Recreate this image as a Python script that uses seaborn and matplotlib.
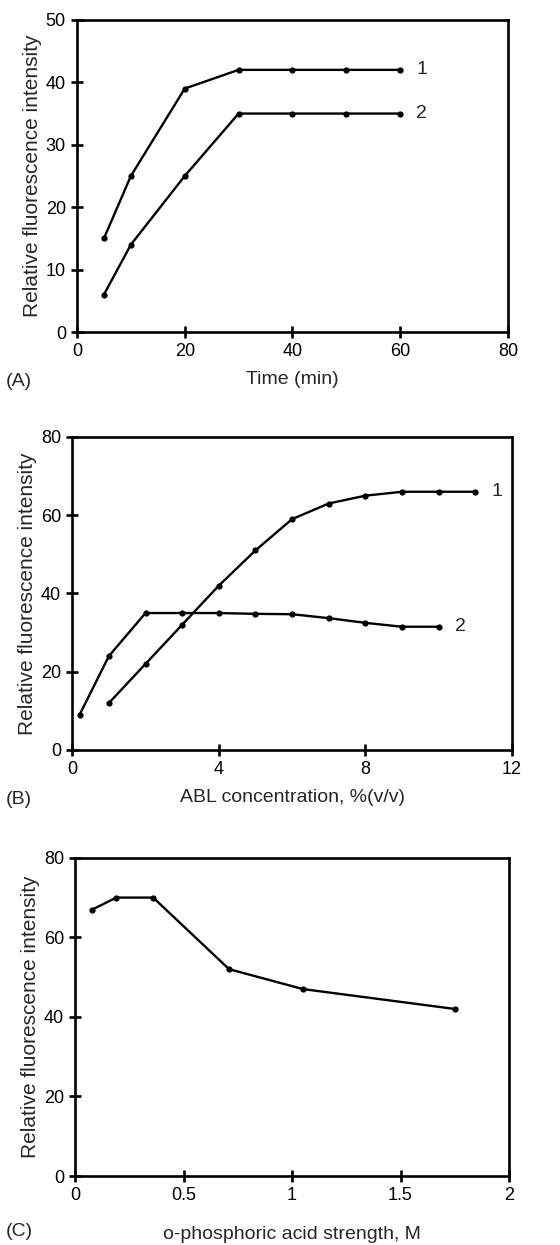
import pandas as pd
import seaborn as sns
import matplotlib.pyplot as plt

# Panel A: time dependence
time_min = [5, 10, 20, 30, 40, 50, 60]
a_curve1 = [15, 25, 39, 42, 42, 42, 42]
a_curve2 = [6, 14, 25, 35, 35, 35, 35]

# Panel B: ABL concentration
abl_x1 = [1, 2, 3, 4, 5, 6, 7, 8, 9, 10, 11]
abl_y1 = [12, 22, 32, 42, 51, 59, 63, 65, 66, 66, 66]
abl_x2 = [0.2, 1, 2, 3, 4, 5, 6, 7, 8, 9, 10]
abl_y2 = [9, 24, 35, 35, 35, 34.8, 34.7, 33.7, 32.5, 31.5, 31.5]

# Panel C: o-phosphoric acid strength
acid_m = [0.08, 0.19, 0.36, 0.71, 1.05, 1.75]
acid_y = [67, 70, 70, 52, 47, 42]

sns.set_style("ticks")
plt.rcParams['font.family'] = ['Liberation Sans', 'DejaVu Sans']

fig = plt.figure(figsize=(5.6, 12.45), dpi=100)
ax_a = fig.add_axes([0.1375, 0.7333, 0.7695, 0.2507])
ax_b = fig.add_axes([0.129, 0.3976, 0.785, 0.2514])
ax_c = fig.add_axes([0.134, 0.0554, 0.775, 0.2556])

line_kw = dict(color='black', linewidth=1.7, marker='o', markersize=4.5,
               markeredgewidth=0, legend=False)

df_a = pd.DataFrame({'x': time_min * 2, 'y': a_curve1 + a_curve2,
                     'curve': ['1'] * len(time_min) + ['2'] * len(time_min)})
for name, grp in df_a.groupby('curve'):
    sns.lineplot(data=grp, x='x', y='y', ax=ax_a, **line_kw)
ax_a.text(63, a_curve1[-1], '1', fontsize=14, va='center')
ax_a.text(63, a_curve2[-1], '2', fontsize=14, va='center')
ax_a.set_xlim(0, 80)
ax_a.set_ylim(0, 50)
ax_a.set_xticks([0, 20, 40, 60, 80])
ax_a.set_yticks([0, 10, 20, 30, 40, 50])
ax_a.set_xlabel('Time (min)', labelpad=8)

sns.lineplot(x=abl_x1, y=abl_y1, ax=ax_b, **line_kw)
sns.lineplot(x=abl_x2, y=abl_y2, ax=ax_b, **line_kw)
ax_b.text(11.45, abl_y1[-1], '1', fontsize=14, va='center')
ax_b.text(10.45, abl_y2[-1], '2', fontsize=14, va='center')
ax_b.set_xlim(0, 12)
ax_b.set_ylim(0, 80)
ax_b.set_xticks([0, 4, 8, 12])
ax_b.set_yticks([0, 20, 40, 60, 80])
ax_b.set_xlabel('ABL concentration, %(v/v)', labelpad=8)

sns.lineplot(x=acid_m, y=acid_y, ax=ax_c, **line_kw)
ax_c.set_xlim(0, 2)
ax_c.set_ylim(0, 80)
ax_c.set_xticks([0, 0.5, 1, 1.5, 2])
ax_c.set_xticklabels(['0', '0.5', '1', '1.5', '2'])
ax_c.set_yticks([0, 20, 40, 60, 80])
ax_c.set_xlabel('o-phosphoric acid strength, M', labelpad=16)

for ax in (ax_a, ax_b, ax_c):
    ax.set_ylabel('Relative fluorescence intensity', fontsize=15, labelpad=3)
    ax.xaxis.label.set_size(14)
    for s in ax.spines.values():
        s.set_visible(True)
        s.set_linewidth(1.9)
        s.set_color('black')
    ax.tick_params(direction='inout', length=8, width=1.9, labelsize=13,
                   colors='black', pad=4)

# panel tags in figure pixels from the top
for tag, ypix in [('(A)', 382), ('(B)', 800), ('(C)', 1232)]:
    fig.text(0.01, 1 - ypix / 1245, tag, fontsize=14, ha='left', va='center')

fig.savefig('out.png', dpi=100, facecolor='white')
